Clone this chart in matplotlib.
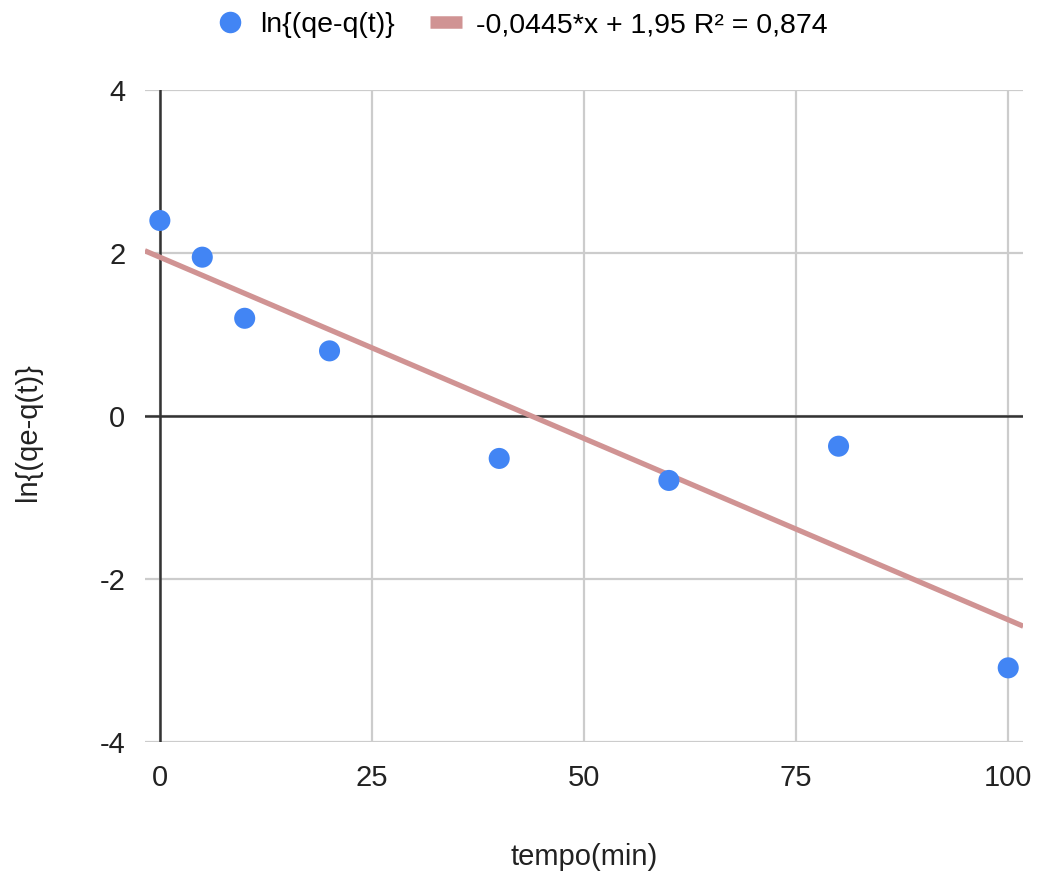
import numpy as np
import matplotlib
matplotlib.use("Agg")
import matplotlib.pyplot as plt
from matplotlib.lines import Line2D

plt.rcParams['font.family'] = ['Liberation Sans', 'DejaVu Sans']
plt.rcParams['axes.unicode_minus'] = False

tempo = [0, 5, 10, 20, 40, 60, 80, 100]
ln_vals = [2.4, 1.95, 1.2, 0.8, -0.52, -0.79, -0.37, -3.09]
slope = -0.0445
intercept = 1.95
r2 = 0.874
x_ticks = [0, 25, 50, 75, 100]
y_ticks = [-4, -2, 0, 2, 4]

series_label = "ln{(qe-q(t)}"
trend_label = "-0,0445*x + 1,95 R² = 0,874"

fig = plt.figure(figsize=(10.42, 8.75), dpi=100)
ax = fig.add_axes([0.139, 0.152, 0.843, 0.745])

xlim = (-1.77, 101.77)
ax.set_xlim(*xlim)
ax.set_ylim(-4, 4)

ax.set_xticks(x_ticks)
ax.set_yticks(y_ticks)
ax.set_axisbelow(True)
ax.grid(True, color='#cccccc', linewidth=1.6)
for s in ax.spines.values():
    s.set_visible(False)
ax.tick_params(length=0, labelsize=21, colors='#222222', pad=14)
ax.tick_params(axis='x', pad=16)

ax.axhline(0, color='#333333', linewidth=1.8, zorder=2)
ax.axvline(0, color='#333333', linewidth=1.8, zorder=2)

xl = np.array(xlim)
ax.plot(xl, slope * xl + intercept, color='#d09393', linewidth=3.8,
        solid_capstyle='butt', zorder=3)
ax.scatter(tempo, ln_vals, s=230, color='#4285f4', edgecolors='none', zorder=4)

ax.set_xlabel("tempo(min)", fontsize=21, color='#222222')
ax.xaxis.set_label_coords(0.5, -0.155)
ax.set_ylabel(series_label, fontsize=21, color='#222222')
ax.yaxis.set_label_coords(-0.117, 0.475)

handles = [
    Line2D([], [], marker='o', linestyle='none', markersize=15.5,
           markerfacecolor='#4285f4', markeredgecolor='none'),
    Line2D([], [], color='#d09393', linewidth=9, solid_capstyle='butt'),
]
fig.legend(handles, [series_label, trend_label], loc='center',
           bbox_to_anchor=(0.50, 0.971), ncol=2, frameon=False,
           fontsize=20.5, handlelength=1.1, columnspacing=1.25,
           handletextpad=0.5)

fig.savefig("out.png", dpi=100)
